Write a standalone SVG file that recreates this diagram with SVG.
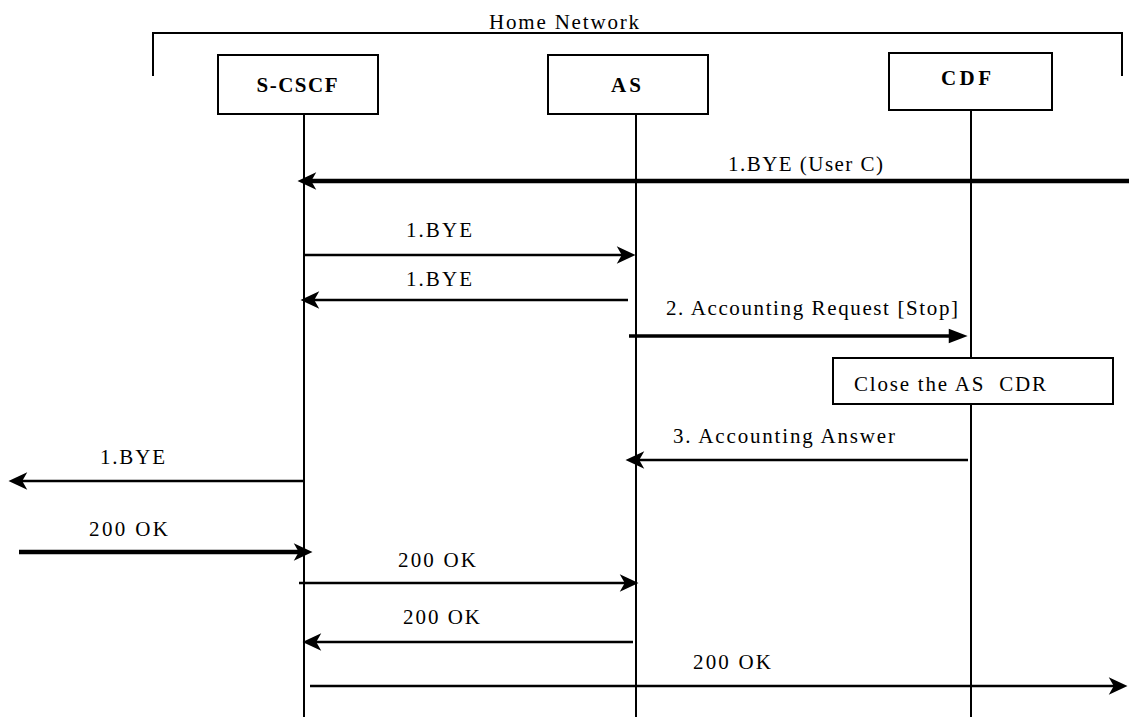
<svg xmlns="http://www.w3.org/2000/svg" width="1129" height="717" viewBox="0 0 1129 717">
<style>
.bg{fill:#fff}
.box{fill:#fff;stroke:#000;stroke-width:2}
.life{stroke:#000;stroke-width:2;fill:none}
.br{stroke:#000;stroke-width:2;fill:none}
.msg{stroke:#000;stroke-width:2.6;fill:none}
.thick{stroke:#000;stroke-width:4.5;fill:none}
.mid{stroke:#000;stroke-width:3.6;fill:none}
.t{font-family:"Liberation Serif","Times New Roman",serif;font-size:21px;fill:#000;white-space:pre}
.b{font-family:"Liberation Serif","Times New Roman",serif;font-size:21px;font-weight:bold;fill:#000}
</style>
<defs>
<marker id="open" markerUnits="userSpaceOnUse" markerWidth="20" markerHeight="20" viewBox="0 -8 16 16" refX="9" refY="0" orient="auto" overflow="visible">
<path d="M0,-7 L15,0 L0,7 L4,0 Z" fill="#000"/>
</marker>
<marker id="tri" markerUnits="userSpaceOnUse" markerWidth="20" markerHeight="20" viewBox="0 -8 18 16" refX="11" refY="0" orient="auto" overflow="visible">
<path d="M0,-6.5 L17,0 L0,6.5 Z" fill="#000"/>
</marker>
</defs>
<rect class="bg" x="0" y="0" width="1129" height="717"/>

<g id="home-network">
<path class="br" d="M153,76 V33 H1122 V76"/>
<text class="t" x="489" y="29" textLength="150" lengthAdjust="spacing">Home Network</text>
</g>

<g id="lifelines">
<line class="life" x1="304" y1="114" x2="304" y2="717"/>
<line class="life" x1="636" y1="114" x2="636" y2="717"/>
<line class="life" x1="971" y1="110" x2="971" y2="717"/>
</g>

<g id="node-scscf">
<rect class="box" x="218" y="55" width="160" height="59"/>
<text class="b" x="297" y="92" text-anchor="middle" textLength="81" lengthAdjust="spacing">S-CSCF</text>
</g>
<g id="node-as">
<rect class="box" x="548" y="55" width="160" height="59"/>
<text class="b" x="626" y="92" text-anchor="middle" textLength="30" lengthAdjust="spacing">AS</text>
</g>
<g id="node-cdf">
<rect class="box" x="889" y="53" width="163" height="57"/>
<text class="b" x="966" y="85" text-anchor="middle" textLength="50" lengthAdjust="spacing">CDF</text>
</g>

<g id="note-close-cdr">
<rect class="box" x="833" y="358" width="280" height="46"/>
<text class="t" x="854" y="391" textLength="192" lengthAdjust="spacing" xml:space="preserve">Close the AS  CDR</text>
</g>

<g id="connectors">
<line class="thick" x1="1129" y1="181" x2="305" y2="181" marker-end="url(#open)"/>
<line class="msg" x1="304" y1="255" x2="628" y2="255" marker-end="url(#open)"/>
<line class="msg" x1="628" y1="300" x2="308" y2="300" marker-end="url(#open)"/>
<line class="mid" x1="629" y1="336" x2="961" y2="336" marker-end="url(#tri)"/>
<line class="msg" x1="968" y1="460" x2="633" y2="460" marker-end="url(#open)"/>
<line class="msg" x1="305" y1="481" x2="16" y2="481" marker-end="url(#open)"/>
<line class="thick" x1="19" y1="552" x2="305" y2="552" marker-end="url(#open)"/>
<line class="msg" x1="299" y1="583" x2="631" y2="583" marker-end="url(#open)"/>
<line class="msg" x1="633" y1="642" x2="310" y2="642" marker-end="url(#open)"/>
<line class="msg" x1="310" y1="686" x2="1120" y2="686" marker-end="url(#open)"/>
</g>

<g id="labels">
<text class="t" x="728" y="171" textLength="155" lengthAdjust="spacing">1.BYE (User C)</text>
<text class="t" x="406" y="237" textLength="66" lengthAdjust="spacing">1.BYE</text>
<text class="t" x="406" y="286" textLength="66" lengthAdjust="spacing">1.BYE</text>
<text class="t" x="666" y="315" textLength="292" lengthAdjust="spacing">2. Accounting Request [Stop]</text>
<text class="t" x="673" y="443" textLength="222" lengthAdjust="spacing">3. Accounting Answer</text>
<text class="t" x="100" y="464" textLength="65" lengthAdjust="spacing">1.BYE</text>
<text class="t" x="89" y="536" textLength="79" lengthAdjust="spacing">200 OK</text>
<text class="t" x="398" y="567" textLength="78" lengthAdjust="spacing">200 OK</text>
<text class="t" x="403" y="624" textLength="77" lengthAdjust="spacing">200 OK</text>
<text class="t" x="693" y="669" textLength="78" lengthAdjust="spacing">200 OK</text>
</g>
</svg>
